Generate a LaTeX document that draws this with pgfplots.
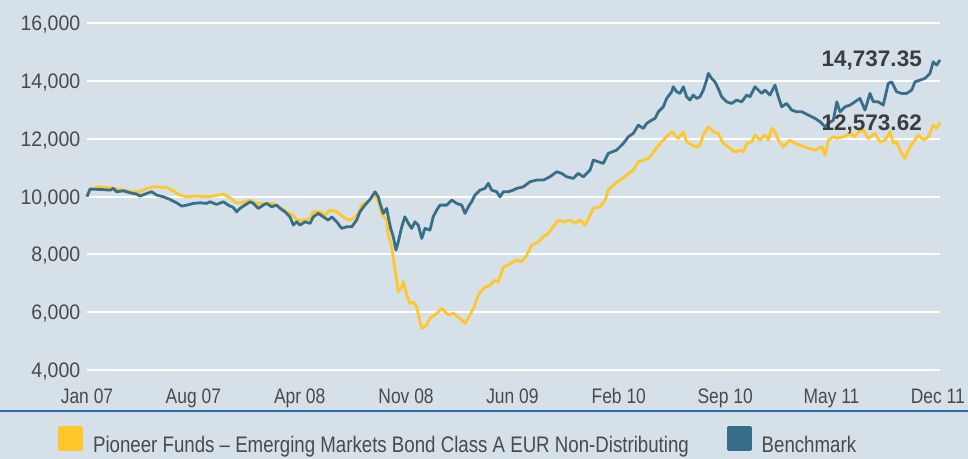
\documentclass[border=0pt]{standalone}
\usepackage{pgfplots}
\pgfplotsset{compat=1.18}
\usepackage{pgfplotstable}
\usepackage{fontspec}
\setmainfont{Liberation Sans}
\newfontfamily\condfont{Liberation Sans}[FakeStretch=0.83,Ligatures=TeX]
\newfontfamily\tickfont{Liberation Sans}[FakeStretch=0.93]
\usetikzlibrary{backgrounds,calc}
\definecolor{bgc}{HTML}{D5E0E8}
\definecolor{fundy}{HTML}{FFC72C}
\definecolor{benchb}{HTML}{376E8A}
\definecolor{tickc}{HTML}{4A4A4A}
\definecolor{annc}{HTML}{3C3C3C}
\definecolor{sepc}{HTML}{2A6DAA}

\pgfplotstableread{
t v
0 10000
0.21 10260
0.79 10340
1.37 10318
1.83 10284
2.53 10225
3.22 10167
3.69 10167
4.15 10284
4.61 10340
5.54 10318
6.01 10202
6.47 10052
6.94 9993
7.63 10017
8.33 9993
8.79 10017
9.49 10087
9.95 9960
10.30 9820
10.64 9764
11.34 9879
11.81 9764
12.39 9764
12.96 9764
13.55 9591
13.89 9473
14.36 9359
14.59 9185
15.05 9185
15.52 9244
15.75 9473
16.21 9473
16.56 9359
16.91 9532
17.37 9473
17.83 9300
18.18 9185
18.53 9244
18.88 9418
19.11 9705
19.69 9879
19.99 10110
20.27 9820
20.50 9418
20.66 9300
20.85 9185
20.96 8666
21.20 8260
21.36 7685
21.55 7106
21.66 6700
21.90 6874
22.01 7047
22.25 6586
22.47 6298
22.70 6354
22.94 6180
23.17 5661
23.29 5432
23.63 5546
23.86 5778
24.33 5952
24.68 6125
24.91 6007
25.14 5893
25.49 5952
25.95 5778
26.30 5605
26.64 5893
26.99 6239
27.22 6586
27.57 6818
28.04 6933
28.39 7106
28.62 7047
28.97 7567
29.31 7626
29.66 7740
29.90 7799
30.24 7740
30.59 7970
30.94 8319
31.40 8433
31.75 8607
32.10 8724
32.44 8953
32.79 9185
33.14 9127
33.60 9185
33.95 9071
34.30 9185
34.65 9012
35.00 9359
35.23 9591
35.70 9647
36.05 9879
36.27 10225
36.62 10399
37.09 10572
37.55 10745
38.01 10918
38.36 11206
38.71 11265
39.05 11324
39.17 11379
39.52 11612
39.87 11844
40.33 12073
40.68 12246
40.91 12132
41.14 12017
41.49 12246
41.72 11899
42.07 11785
42.42 11726
42.65 11785
42.88 12132
43.23 12419
43.58 12246
43.92 12190
44.27 11844
44.74 11671
45.08 11553
45.43 11612
45.67 11553
45.90 11844
46.25 11899
46.48 12132
46.83 11958
47.17 12132
47.41 11958
47.64 12364
47.87 12246
48.10 11958
48.45 11726
48.68 11844
48.91 11958
49.26 11844
49.61 11785
50.20 11671
50.66 11612
51.12 11726
51.35 11438
51.58 11958
51.93 12073
52.17 12017
52.62 12073
53.09 12190
53.43 12073
53.66 12246
54.01 12305
54.36 12017
54.82 12190
55.17 11899
55.52 11958
55.87 12246
56.10 11844
56.33 11899
56.68 11497
56.91 11324
57.26 11726
57.61 11958
57.85 12132
58.19 11958
58.54 12073
58.88 12478
59.12 12364
59.35 12573.62
}\fundtable

\pgfplotstableread{
t v
0 10000
0.21 10260
0.90 10248
1.60 10225
1.83 10284
2.07 10167
2.53 10202
2.99 10132
3.46 10087
3.69 10017
4.15 10110
4.50 10167
4.85 10052
5.31 9993
5.77 9903
6.24 9785
6.59 9671
6.94 9705
7.40 9764
7.86 9785
8.33 9764
8.56 9820
9.02 9729
9.49 9820
9.83 9705
10.18 9620
10.41 9473
10.64 9591
10.99 9705
11.34 9820
11.57 9764
11.92 9591
12.27 9705
12.50 9764
12.85 9647
13.20 9705
13.43 9591
13.78 9473
14.12 9300
14.36 9012
14.59 9127
14.82 9012
15.17 9127
15.52 9071
15.75 9300
16.09 9418
16.44 9300
16.79 9185
17.03 9300
17.37 9127
17.72 8898
18.07 8953
18.42 8953
18.76 9185
18.99 9473
19.34 9705
19.69 9900
20.04 10167
20.27 9993
20.39 9764
20.62 9418
20.85 9591
20.96 9300
21.13 8898
21.31 8607
21.50 8146
21.66 8433
21.90 8953
22.12 9300
22.36 9071
22.59 8898
22.82 9127
23.05 9012
23.29 8551
23.52 8898
23.86 8839
24.09 9300
24.33 9532
24.56 9705
25.03 9705
25.37 9879
25.72 9764
26.07 9705
26.30 9418
26.53 9647
26.76 9820
26.99 10052
27.34 10225
27.69 10284
27.92 10458
28.16 10225
28.51 10167
28.73 9993
28.97 10167
29.31 10167
29.66 10225
29.90 10284
30.36 10340
30.82 10513
31.29 10572
31.75 10572
32.21 10686
32.68 10860
33.03 10804
33.38 10686
33.84 10631
34.18 10804
34.53 10686
35.00 10918
35.23 11265
35.58 11206
35.92 11151
36.27 11497
36.85 11612
37.32 11844
37.66 12073
38.01 12190
38.36 12478
38.71 12364
38.94 12537
39.29 12651
39.52 12710
39.75 12939
40.10 13112
40.33 13404
40.68 13632
40.79 13806
41.03 13632
41.26 13577
41.49 13806
41.72 13459
41.95 13345
42.18 13518
42.42 13404
42.65 13459
42.88 13691
43.11 14038
43.23 14270
43.46 14097
43.69 13979
43.92 13750
44.16 13459
44.50 13286
44.85 13230
45.20 13345
45.55 13286
45.90 13518
46.13 13459
46.48 13806
46.71 13691
46.94 13577
47.17 13691
47.52 13518
47.87 13865
48.10 13459
48.34 13112
48.68 13230
49.03 12998
49.38 12939
49.73 12939
50.20 12825
50.66 12710
51.01 12593
51.35 12419
51.58 12537
51.93 12651
52.17 13286
52.39 12939
52.74 13112
53.09 13171
53.43 13286
53.78 13404
54.13 12998
54.48 13577
54.71 13286
55.05 13286
55.40 13171
55.75 13924
55.99 13979
56.33 13632
56.68 13577
57.03 13577
57.38 13691
57.61 13979
57.96 14038
58.30 14097
58.65 14270
58.88 14672
59.12 14558
59.35 14737.35
}\benchtable

\begin{document}
\begin{tikzpicture}
\begin{axis}[
  scale only axis,
  width=853bp, height=346.2bp,
  xmin=0, xmax=59.35, ymin=4000, ymax=16000,
  clip=false,
  scaled y ticks=false,
  scaled x ticks=false,
  axis line style={draw=none},
  major tick length=0pt,
  ymajorgrids,
  grid style={white, line width=2bp},
  ytick={4000,6000,8000,10000,12000,14000,16000},
  yticklabels={{4,000},{6,000},{8,000},{10,000},{12,000},{14,000},{16,000}},
  yticklabel style={anchor=base east, inner sep=0pt, xshift=-6.5bp, yshift=-7.5bp,
    font=\tickfont\fontsize{21bp}{25bp}\selectfont, text=tickc},
  xtick={0,7.4,14.8,22.2,29.6,37.0,44.4,51.8,59.2},
  xticklabels={Jan 07,Aug 07,Apr 08,Nov 08,Jun 09,Feb 10,Sep 10,May 11,Dec 11},
  xticklabel style={anchor=base, inner sep=0pt, yshift=-33.6bp,
    font=\condfont\fontsize{21bp}{25bp}\selectfont, text=tickc},
  legend columns=2,
  legend image code/.code={\fill[#1] (0bp,-4bp) rectangle (22bp,18bp);},
  legend style={at={(axis description cs:0,0)}, anchor=north west,
    xshift=-28.7bp, yshift=-56bp,
    draw=none, fill=none, inner sep=0pt, outer sep=0pt,
    font=\condfont\fontsize{22.5bp}{27bp}\selectfont, text=tickc,
    nodes={inner sep=0pt},
    /tikz/every odd column/.append style={column sep=10bp},
    /tikz/every even column/.append style={column sep=38bp}},
]
\coordinate (O) at (rel axis cs:0,0);
\addplot[fundy, line width=2.8bp, line join=round] table[x=t,y=v] {\fundtable};
\addlegendentry{Pioneer Funds – Emerging Markets Bond Class A EUR Non-Distributing}
\addplot[benchb, line width=2.8bp, line join=round] table[x=t,y=v] {\benchtable};
\addlegendentry{Benchmark}
\node[anchor=base, inner sep=0pt, font=\bfseries\fontsize{22.5bp}{26bp}\selectfont, text=annc] at (axis cs:54.6,14499) {14,737.35};
\node[anchor=base, inner sep=0pt, font=\bfseries\fontsize{22.5bp}{26bp}\selectfont, text=annc] at (axis cs:54.6,12305) {12,573.62};
\end{axis}
\draw[sepc, line width=1.8bp] ($(O)+(-87bp,-41bp)$) -- ($(O)+(881bp,-41bp)$);
\begin{scope}[on background layer]
\fill[bgc] ($(O)+(-87bp,-89.3bp)$) rectangle ($(O)+(881bp,369.7bp)$);
\end{scope}
\pgfresetboundingbox
\path[use as bounding box] ($(O)+(-87bp,-89.3bp)$) rectangle ($(O)+(881bp,369.7bp)$);
\end{tikzpicture}
\end{document}
